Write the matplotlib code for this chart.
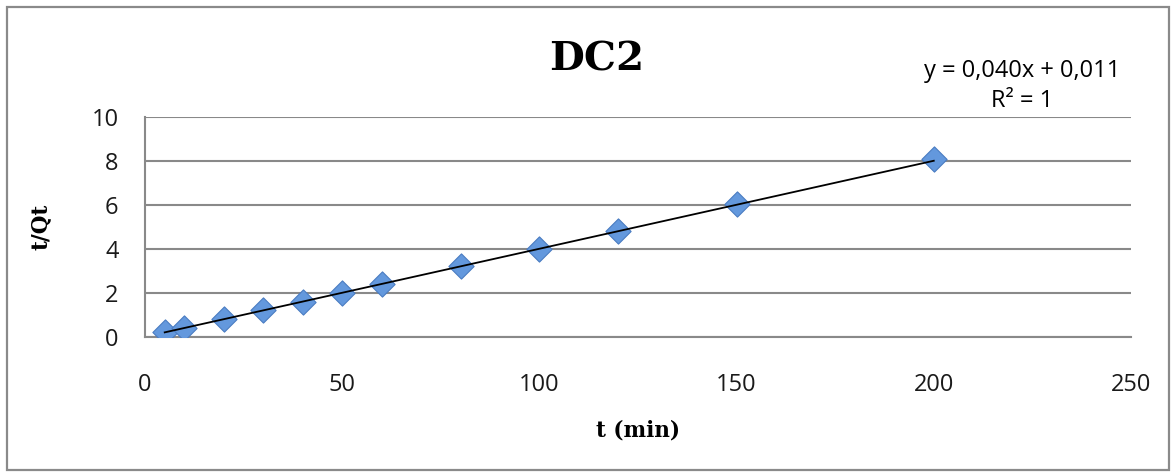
import numpy as np
import matplotlib
matplotlib.use('Agg')
import matplotlib.pyplot as plt
from matplotlib.patches import Rectangle

# kinetic data for DC2
t_min = [5, 10, 20, 30, 40, 50, 60, 80, 100, 120, 150, 200]
t_over_qt = [0.21, 0.41, 0.81, 1.21, 1.61, 2.02, 2.43, 3.24, 4.02, 4.84, 6.06, 8.08]

# linear trend line
slope = 0.040
intercept = 0.011
r2 = 1

x_ticks = [0, 50, 100, 150, 200, 250]
y_ticks = [0, 2, 4, 6, 8, 10]

grid_color = '#898989'
tick_font = 'Open Sans'
serif_font = 'DejaVu Serif'

fig = plt.figure(figsize=(11.76, 4.76), dpi=100)
ax = fig.add_axes([0.1233, 0.292, 0.8384, 0.4622])

# outer frame of the chart area
fig.patches.append(Rectangle((0.006, 0.012), 0.988, 0.974, transform=fig.transFigure,
                             fill=False, edgecolor='#8a8a8a', linewidth=1.6))

ax.scatter(t_min, t_over_qt, marker='D', s=165, color='#6398dd',
           edgecolors='#4a7cc2', linewidths=0.8, zorder=3)

# trend line over the measured range
xl = np.array([min(t_min), max(t_min)])
ax.plot(xl, slope * xl + intercept, color='black', linewidth=1.3, zorder=4)

ax.set_xlim(0, 250)
ax.set_ylim(0, 10)
ax.set_xticks(x_ticks)
ax.set_yticks(y_ticks)
ax.tick_params(length=0, labelsize=17, pad=26)
ax.tick_params(axis='y', pad=19)
for lab in ax.get_xticklabels() + ax.get_yticklabels():
    lab.set_fontfamily(tick_font)
    lab.set_color('#1a1a1a')

ax.yaxis.grid(True, color=grid_color, linewidth=1.5)
ax.set_axisbelow(True)
for side in ['top', 'right']:
    ax.spines[side].set_visible(False)
ax.spines['left'].set_color(grid_color)
ax.spines['left'].set_linewidth(1.5)
ax.spines['bottom'].set_color(grid_color)
ax.spines['bottom'].set_linewidth(1.5)

fig.text(0.5075, 0.874, 'DC2', ha='center', va='center', fontsize=29,
         fontweight='bold', family=serif_font)
ax.set_xlabel('t (min)', fontsize=15.5, fontweight='bold', family=serif_font, labelpad=16)
ax.set_ylabel('t/Qt', fontsize=15.5, fontweight='bold', family=serif_font, labelpad=29)

eq = 'y = {:.3f}x + {:.3f}'.format(slope, intercept).replace('.', ',')
fig.text(0.869, 0.819, eq + '\nR² = {}'.format(r2), ha='center', va='center',
         multialignment='center', fontsize=17, family=tick_font, linespacing=1.3)

fig.savefig('out.png', dpi=100)
